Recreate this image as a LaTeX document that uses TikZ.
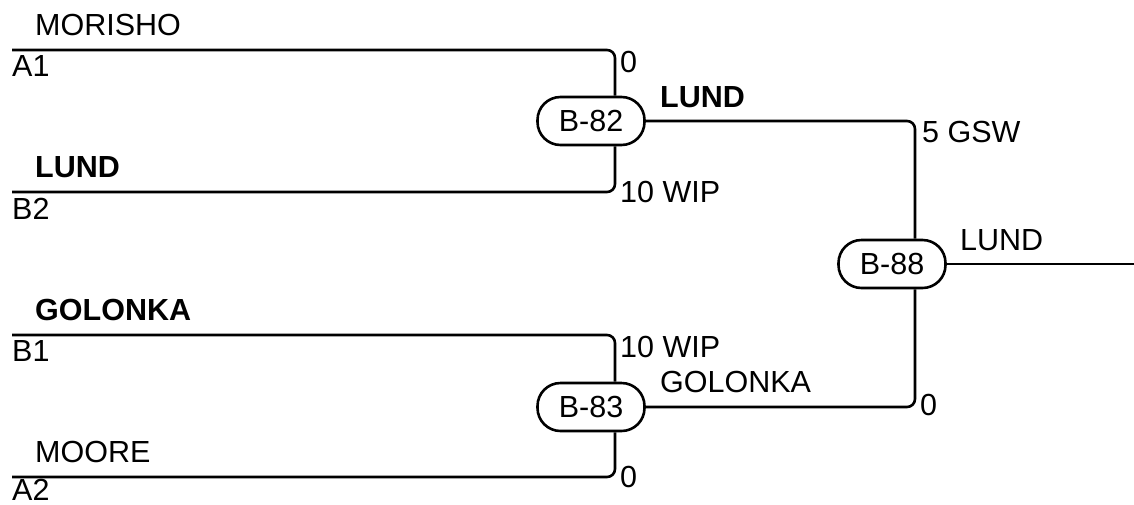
\documentclass[tikz,border=0pt]{standalone}
\usepackage{fontspec}
\setmainfont{Liberation Sans}
\usepackage{tikz}

\tikzset{
  game/.style={draw, line width=2.6pt, fill=white, rounded corners=23pt,
    minimum width=107pt, minimum height=48pt, inner sep=0pt},
  wire/.style={line width=2.6pt, rounded corners=8pt},
  lbl/.style={anchor=base west, inner sep=0pt}
}

\begin{document}
\begin{tikzpicture}[x=1pt, y=-1pt, font=\fontsize{30.5}{34}\selectfont]
  \useasboundingbox (0,0) rectangle (1134,504);

  % Entry lines on the left
  \coordinate (A1) at (12,50);
  \coordinate (B2) at (12,192);
  \coordinate (B1) at (12,335);
  \coordinate (A2) at (12,477);
  \coordinate (out) at (1134,264);

  % Games
  \node[game] (g82) at (591,121) {B-82};
  \node[game] (g83) at (591,407) {B-83};
  \node[game] (g88) at (892,264) {B-88};

  % Connectors
  \draw[wire] (A1) -| ([xshift=24pt]g82.north);
  \draw[wire] (B2) -| ([xshift=24pt]g82.south);
  \draw[wire] (B1) -| ([xshift=24pt]g83.north);
  \draw[wire] (A2) -| ([xshift=24pt]g83.south);
  \draw[wire] (g82.east) -| ([xshift=23pt]g88.north);
  \draw[wire] (g83.east) -| ([xshift=23pt]g88.south);
  \draw[wire] (g88.east) -- (out);

  % Team names and seeds
  \node[lbl] (nMorisho) at (35,35) {MORISHO};
  \node[lbl] (sA1) at (12,76) {A1};
  \node[lbl] (nLund) at (35,177) {\bfseries LUND};
  \node[lbl] (sB2) at (12,219) {B2};
  \node[lbl] (nGolonka) at (35,320) {\bfseries GOLONKA};
  \node[lbl] (sB1) at (12,361) {B1};
  \node[lbl] (nMoore) at (35,462) {MOORE};
  \node[lbl] (sA2) at (12,500) {A2};

  % Scores and winners
  \node[lbl] (r1) at (620,72) {0};
  \node[lbl] (r2) at (620,202) {10 WIP};
  \node[lbl] (w82) at (660,107) {\bfseries LUND};
  \node[lbl] (r3) at (620,357) {10 WIP};
  \node[lbl] (r4) at (620,487) {0};
  \node[lbl] (w83) at (660,392) {GOLONKA};
  \node[lbl] (r5) at (922,142) {5 GSW};
  \node[lbl] (r6) at (920,415) {0};
  \node[lbl] (w88) at (960,250) {LUND};
\end{tikzpicture}
\end{document}
